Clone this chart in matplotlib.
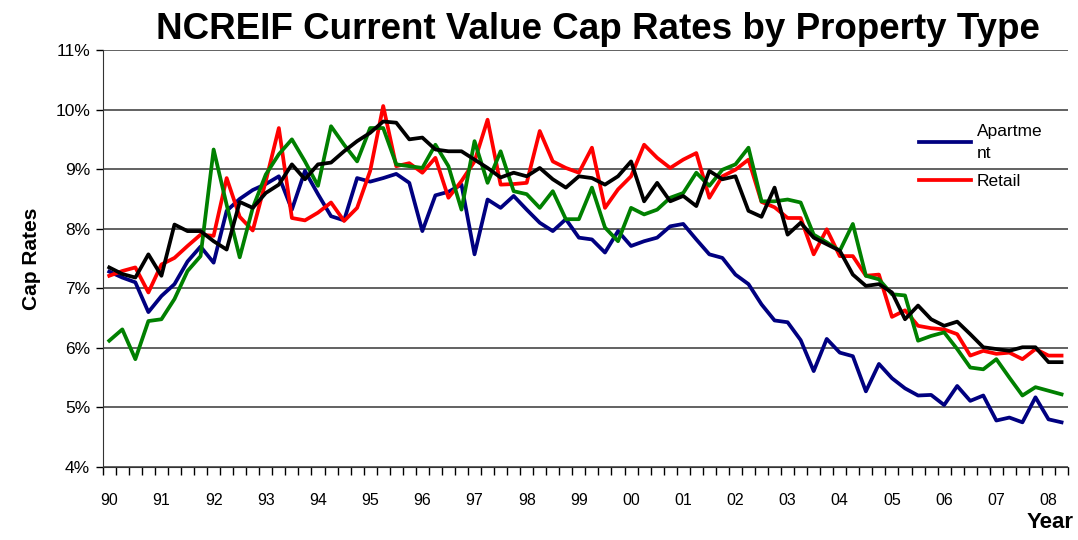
import numpy as np
import matplotlib
matplotlib.use("Agg")
import matplotlib.pyplot as plt
from matplotlib.ticker import FixedLocator, FuncFormatter

plt.rcParams['font.family'] = ['Liberation Sans', 'DejaVu Sans']

# quarterly cap rates (%), 1990 Q1 .. 2008 Q2
apartment = [7.28, 7.18, 7.10, 6.60, 6.87, 7.07, 7.45, 7.70, 7.43, 8.30,
             8.50, 8.65, 8.75, 8.88, 8.32, 8.97, 8.58, 8.21, 8.14, 8.85,
             8.79, 8.85, 8.92, 8.77, 7.96, 8.56, 8.62, 8.74, 7.57, 8.49,
             8.35, 8.55, 8.32, 8.10, 7.96, 8.16, 7.85, 7.82, 7.60, 7.96,
             7.71, 7.79, 7.85, 8.04, 8.08, 7.82, 7.57, 7.51, 7.23, 7.07,
             6.73, 6.46, 6.43, 6.13, 5.61, 6.15, 5.92, 5.86, 5.27, 5.73,
             5.49, 5.32, 5.20, 5.21, 5.04, 5.36, 5.11, 5.20, 4.78, 4.83,
             4.75, 5.17, 4.80, 4.75]
retail = [7.21, 7.29, 7.35, 6.93, 7.40, 7.51, 7.71, 7.90, 7.88, 8.85,
          8.20, 7.97, 8.80, 9.69, 8.18, 8.14, 8.27, 8.44, 8.13, 8.35,
          8.97, 10.06, 9.05, 9.10, 8.94, 9.19, 8.52, 8.80, 9.13, 9.83,
          8.74, 8.75, 8.77, 9.64, 9.13, 9.02, 8.94, 9.36, 8.35, 8.66,
          8.88, 9.41, 9.19, 9.02, 9.16, 9.27, 8.52, 8.88, 8.99, 9.16,
          8.45, 8.36, 8.18, 8.18, 7.57, 7.99, 7.54, 7.54, 7.21, 7.23,
          6.52, 6.63, 6.37, 6.33, 6.31, 6.23, 5.87, 5.95, 5.90, 5.92,
          5.81, 5.98, 5.87, 5.87]
industrial = [6.12, 6.31, 5.81, 6.45, 6.48, 6.82, 7.29, 7.54, 9.33, 8.40,
              7.52, 8.35, 8.91, 9.25, 9.50, 9.13, 8.72, 9.72, 9.41, 9.13,
              9.69, 9.69, 9.08, 9.05, 9.02, 9.41, 9.05, 8.32, 9.47, 8.77,
              9.30, 8.63, 8.58, 8.35, 8.63, 8.16, 8.16, 8.69, 8.02, 7.79,
              8.35, 8.24, 8.32, 8.52, 8.60, 8.94, 8.72, 8.99, 9.08, 9.36,
              8.46, 8.46, 8.49, 8.44, 7.90, 7.77, 7.63, 8.08, 7.21, 7.15,
              6.90, 6.88, 6.12, 6.20, 6.26, 5.98, 5.67, 5.64, 5.81, 5.50,
              5.20, 5.34, 5.28, 5.22]
office = [7.35, 7.24, 7.18, 7.57, 7.21, 8.07, 7.96, 7.96, 7.79, 7.65,
          8.45, 8.35, 8.60, 8.74, 9.08, 8.83, 9.08, 9.11, 9.30, 9.47,
          9.61, 9.80, 9.78, 9.50, 9.53, 9.33, 9.30, 9.30, 9.16, 9.02,
          8.86, 8.94, 8.88, 9.02, 8.83, 8.69, 8.88, 8.85, 8.74, 8.88,
          9.13, 8.46, 8.77, 8.46, 8.55, 8.38, 8.97, 8.83, 8.88, 8.30,
          8.20, 8.69, 7.90, 8.10, 7.85, 7.74, 7.63, 7.23, 7.04, 7.07,
          6.93, 6.48, 6.71, 6.48, 6.37, 6.44, 6.23, 6.01, 5.98, 5.95,
          6.01, 6.01, 5.76, 5.76]
year_labels = ['90', '91', '92', '93', '94', '95', '96', '97', '98', '99',
               '00', '01', '02', '03', '04', '05', '06', '07', '08']

x = np.arange(len(apartment))

fig = plt.figure(figsize=(10.78, 5.4), dpi=100)
ax = fig.add_axes([0.0953, 0.1352, 0.8955, 0.7722])

ax.plot(x, apartment, color='#000080', lw=2.7, label='Apartme\nnt')
ax.plot(x, retail, color='#ff0000', lw=2.7, label='Retail')
ax.plot(x, industrial, color='#008000', lw=2.7)
ax.plot(x, office, color='#000000', lw=2.7)

ax.set_xlim(-0.5, len(x) - 0.5)
ax.set_ylim(4, 11)
ax.set_yticks(np.arange(4, 12, 1))
ax.yaxis.set_major_formatter(FuncFormatter(lambda v, p: '%d%%' % v))
ax.grid(axis='y', color='#555555', lw=1.3)
ax.set_axisbelow(True)

# year labels at every 4th quarter, tick marks between quarters
ax.set_xticks(x[::4])
ax.set_xticklabels(year_labels)
ax.xaxis.set_minor_locator(FixedLocator(np.arange(-0.5, len(x), 1)))
ax.tick_params(axis='x', which='major', length=0, pad=19, labelsize=11.5)
ax.tick_params(axis='x', which='minor', length=6, width=1, direction='out')
ax.tick_params(axis='y', length=5, width=1, labelsize=12.5, pad=4)

for s in ['top', 'right']:
    ax.spines[s].set_visible(False)
ax.spines['left'].set_color('#333333')
ax.spines['bottom'].set_color('#333333')

ax.set_ylabel('Cap Rates', fontsize=15, fontweight='bold', labelpad=10)
fig.text(0.996, 0.033, 'Year', fontsize=16, fontweight='bold', ha='right', va='center')
fig.suptitle('NCREIF Current Value Cap Rates by Property Type', fontsize=26.5,
             fontweight='bold', x=0.555, y=0.945, va='center')

leg = ax.legend(loc='upper left', bbox_to_anchor=(0.838, 0.84), frameon=False,
                fontsize=12.5, handlelength=3.0, handletextpad=0.35,
                labelspacing=0.75, borderaxespad=0)
for t in leg.get_texts():
    t.set_linespacing(1.6)

fig.savefig('out.png', dpi=100)
